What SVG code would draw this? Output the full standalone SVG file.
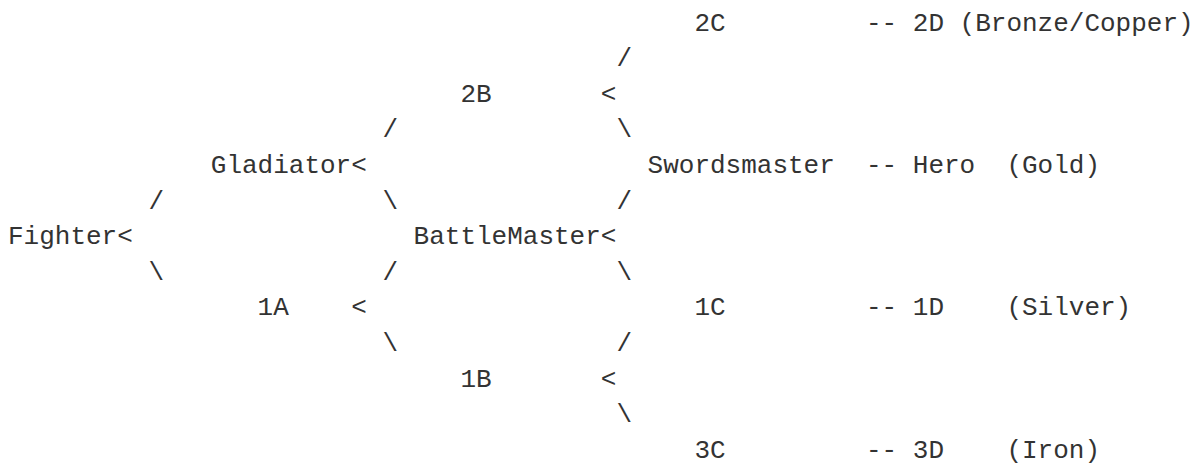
<svg xmlns="http://www.w3.org/2000/svg" width="1196" height="466" viewBox="0 0 1196 466">
<style>
text{font-family:"Liberation Mono","Courier New",monospace;font-size:26px;fill:#333;}
</style>
<rect width="1196" height="466" fill="#ffffff"/>
<g id="connectors">
<text x="866" y="30.5">--</text>
<text x="616.4" y="66.1">/</text>
<text x="600.8" y="101.7">&lt;</text>
<text x="382.4" y="137.3">/</text>
<text x="616.4" y="137.3">\</text>
<text x="351.2" y="172.9">&lt;</text>
<text x="866" y="172.9">--</text>
<text x="148.4" y="208.5">/</text>
<text x="382.4" y="208.5">\</text>
<text x="616.4" y="208.5">/</text>
<text x="117.2" y="244.1">&lt;</text>
<text x="600.8" y="244.1">&lt;</text>
<text x="148.4" y="279.7">\</text>
<text x="382.4" y="279.7">/</text>
<text x="616.4" y="279.7">\</text>
<text x="351.2" y="315.3">&lt;</text>
<text x="866" y="315.3">--</text>
<text x="382.4" y="350.9">\</text>
<text x="616.4" y="350.9">/</text>
<text x="600.8" y="386.5">&lt;</text>
<text x="616.4" y="422.1">\</text>
<text x="866" y="457.7">--</text>
</g>
<g id="node-fighter"><text x="8" y="244.1">Fighter</text></g>
<g id="node-gladiator"><text x="210.8" y="172.9">Gladiator</text></g>
<g id="node-battlemaster"><text x="413.6" y="244.1">BattleMaster</text></g>
<g id="node-2b"><text x="460.4" y="101.7">2B</text></g>
<g id="node-1a"><text x="257.6" y="315.3">1A</text></g>
<g id="node-1b"><text x="460.4" y="386.5">1B</text></g>
<g id="node-2c"><text x="694.4" y="30.5">2C</text></g>
<g id="node-swordsmaster"><text x="647.6" y="172.9">Swordsmaster</text></g>
<g id="node-1c"><text x="694.4" y="315.3">1C</text></g>
<g id="node-3c"><text x="694.4" y="457.7">3C</text></g>
<g id="node-2d"><text x="912.8" y="30.5">2D</text><text x="959.6" y="30.5">(Bronze/Copper)</text></g>
<g id="node-hero"><text x="912.8" y="172.9">Hero</text><text x="1006.4" y="172.9">(Gold)</text></g>
<g id="node-1d"><text x="912.8" y="315.3">1D</text><text x="1006.4" y="315.3">(Silver)</text></g>
<g id="node-3d"><text x="912.8" y="457.7">3D</text><text x="1006.4" y="457.7">(Iron)</text></g>
</svg>
